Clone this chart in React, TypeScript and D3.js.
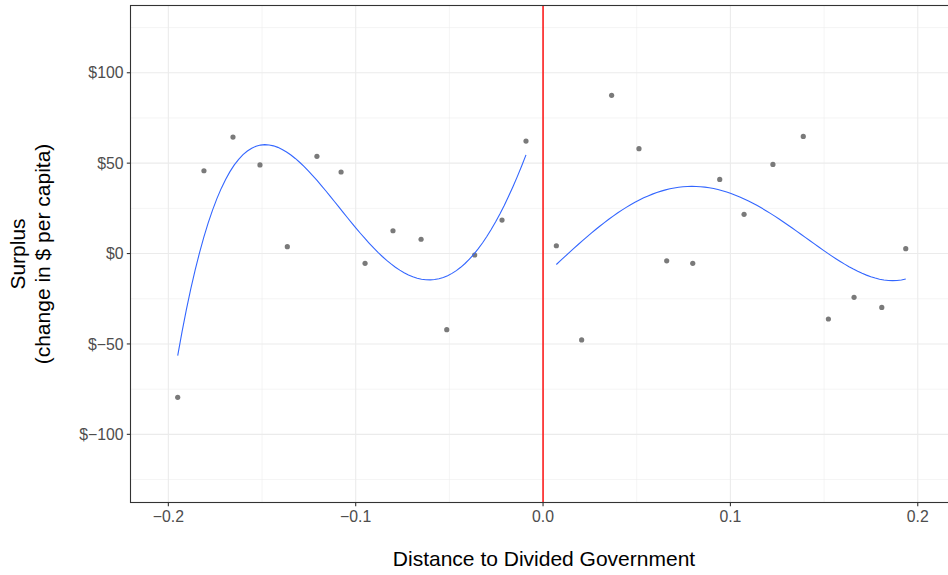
import React from "react";
import * as d3 from "d3";

const xValues = [
  -0.195, -0.181, -0.1655, -0.1511, -0.1365, -0.1207, -0.1078, -0.095, -0.0801, -0.0651, -0.0514, -0.0365, -0.0219, -0.0091,
  0.0071, 0.0206, 0.0366, 0.0512, 0.066, 0.0799, 0.0943, 0.1073, 0.1227, 0.1389, 0.1523, 0.166, 0.1808, 0.1936,
];
const yValues = [
  -79.5, 45.8, 64.4, 49.0, 3.8, 53.8, 45.1, -5.4, 12.6, 7.9, -42.1, -0.8, 18.5, 62.2,
  4.3, -47.8, 87.5, 58.0, -4.0, -5.4, 41.0, 21.7, 49.3, 64.8, -36.2, -24.2, -29.8, 2.7,
];
const xTicks = [-0.2, -0.1, 0.0, 0.1, 0.2];
const xTickLabels = ["\u22120.2", "\u22120.1", "0.0", "0.1", "0.2"];
const xMinor = [-0.15, -0.05, 0.05, 0.15];
const yTicks = [-100, -50, 0, 50, 100];
const yTickLabels = ["$\u2212100", "$\u221250", "$0", "$50", "$100"];
const yMinor = [-125, -75, -25, 25, 75, 125];
const cutoff = 0;
const polyDegree = 4;

const W = 948;
const H = 575;
const panel = { left: 130.5, top: 5.5, right: 955.6, bottom: 502.5 };

function solve(S: number[][], b: number[]) {
  const m = b.length;
  const A = S.map((r, i) => [...r, b[i]]);
  for (let i = 0; i < m; i++) {
    let p = i;
    for (let k = i + 1; k < m; k++) if (Math.abs(A[k][i]) > Math.abs(A[p][i])) p = k;
    [A[i], A[p]] = [A[p], A[i]];
    for (let k = i + 1; k < m; k++) {
      const f = A[k][i] / A[i][i];
      for (let c = i; c <= m; c++) A[k][c] -= f * A[i][c];
    }
  }
  const sol = new Array(m).fill(0);
  for (let i = m - 1; i >= 0; i--) {
    let s = A[i][m];
    for (let c = i + 1; c < m; c++) s -= A[i][c] * sol[c];
    sol[i] = s / A[i][i];
  }
  return sol;
}

function polyFit(xs: number[], ys: number[], deg: number) {
  const mx = d3.mean(xs)!;
  const sx = d3.deviation(xs)!;
  const m = deg + 1;
  const S = Array.from({ length: m }, () => new Array(m).fill(0));
  const b = new Array(m).fill(0);
  xs.forEach((xv, i) => {
    const t = (xv - mx) / sx;
    const row = d3.range(m).map((k) => Math.pow(t, k));
    for (let r = 0; r < m; r++) {
      for (let c = 0; c < m; c++) S[r][c] += row[r] * row[c];
      b[r] += row[r] * ys[i];
    }
  });
  const coef = solve(S, b);
  return (xv: number) => {
    const t = (xv - mx) / sx;
    return coef.reduce((s, c, k) => s + c * Math.pow(t, k), 0);
  };
}

export default function App() {
  const x = d3.scaleLinear().domain([-0.2202, 0.2202]).range([panel.left, panel.right]);
  const y = d3.scaleLinear().domain([-137.7, 137.2]).range([panel.bottom, panel.top]);

  const groups = [
    xValues.map((v, i) => i).filter((i) => xValues[i] < cutoff),
    xValues.map((v, i) => i).filter((i) => xValues[i] >= cutoff),
  ];
  const line = d3
    .line<[number, number]>()
    .x((d) => x(d[0]))
    .y((d) => y(d[1]));
  const curves = groups.map((idx) => {
    const xs = idx.map((i) => xValues[i]);
    const ys = idx.map((i) => yValues[i]);
    const f = polyFit(xs, ys, polyDegree);
    const lo = d3.min(xs)!;
    const hi = d3.max(xs)!;
    const pts: [number, number][] = d3.range(0, 81).map((k) => {
      const xv = lo + ((hi - lo) * k) / 80;
      return [xv, f(xv)];
    });
    return line(pts) || "";
  });

  const font = "'Liberation Sans', Arial, sans-serif";
  return (
    <svg width={W} height={H} style={{ position: "absolute", left: 0, top: 0, background: "#fff" }} fontFamily={font}>
      <defs>
        <clipPath id="pc">
          <rect x={panel.left} y={panel.top} width={panel.right - panel.left} height={panel.bottom - panel.top} />
        </clipPath>
      </defs>
      <rect x={0} y={0} width={W} height={H} fill="#fff" />
      <g clipPath="url(#pc)">
        {xMinor.map((v) => (
          <line key={"xm" + v} x1={x(v)} x2={x(v)} y1={panel.top} y2={panel.bottom} stroke="#EBEBEB" strokeWidth={0.55} />
        ))}
        {yMinor.map((v) => (
          <line key={"ym" + v} x1={panel.left} x2={panel.right} y1={y(v)} y2={y(v)} stroke="#EBEBEB" strokeWidth={0.55} />
        ))}
        {xTicks.map((v) => (
          <line key={"xM" + v} x1={x(v)} x2={x(v)} y1={panel.top} y2={panel.bottom} stroke="#EBEBEB" strokeWidth={1.1} />
        ))}
        {yTicks.map((v) => (
          <line key={"yM" + v} x1={panel.left} x2={panel.right} y1={y(v)} y2={y(v)} stroke="#EBEBEB" strokeWidth={1.1} />
        ))}
        {xValues.map((v, i) => (
          <circle key={"p" + i} cx={x(v)} cy={y(yValues[i])} r={2.6} fill="#7a7a7a" />
        ))}
        {curves.map((d, i) => (
          <path key={"c" + i} d={d} fill="none" stroke="#3366FF" strokeWidth={1.1} />
        ))}
        <line x1={x(cutoff)} x2={x(cutoff)} y1={panel.top} y2={panel.bottom} stroke="#FF0000" strokeWidth={1.4} />
      </g>
      <rect
        x={panel.left}
        y={panel.top}
        width={panel.right - panel.left}
        height={panel.bottom - panel.top}
        fill="none"
        stroke="#333333"
        strokeWidth={1.1}
      />
      {xTicks.map((v, i) => (
        <g key={"xt" + v}>
          <line x1={x(v)} x2={x(v)} y1={panel.bottom} y2={panel.bottom + 3.7} stroke="#333333" strokeWidth={1.1} />
          <text x={x(v)} y={522} textAnchor="middle" fontSize={15.8} fill="#4D4D4D">
            {xTickLabels[i]}
          </text>
        </g>
      ))}
      {yTicks.map((v, i) => (
        <g key={"yt" + v}>
          <line x1={panel.left - 3.7} x2={panel.left} y1={y(v)} y2={y(v)} stroke="#333333" strokeWidth={1.1} />
          <text x={123.5} y={y(v)} dy="0.36em" textAnchor="end" fontSize={15.8} fill="#4D4D4D">
            {yTickLabels[i]}
          </text>
        </g>
      ))}
      <text x={544} y={566} textAnchor="middle" fontSize={21} fill="#000">
        Distance to Divided Government
      </text>
      <g transform={`translate(0, ${(panel.top + panel.bottom) / 2}) rotate(-90)`}>
        <text x={0} y={25} textAnchor="middle" fontSize={21} fill="#000">
          Surplus
        </text>
        <text x={0} y={50} textAnchor="middle" fontSize={21} fill="#000">
          (change in $ per capita)
        </text>
      </g>
    </svg>
  );
}
